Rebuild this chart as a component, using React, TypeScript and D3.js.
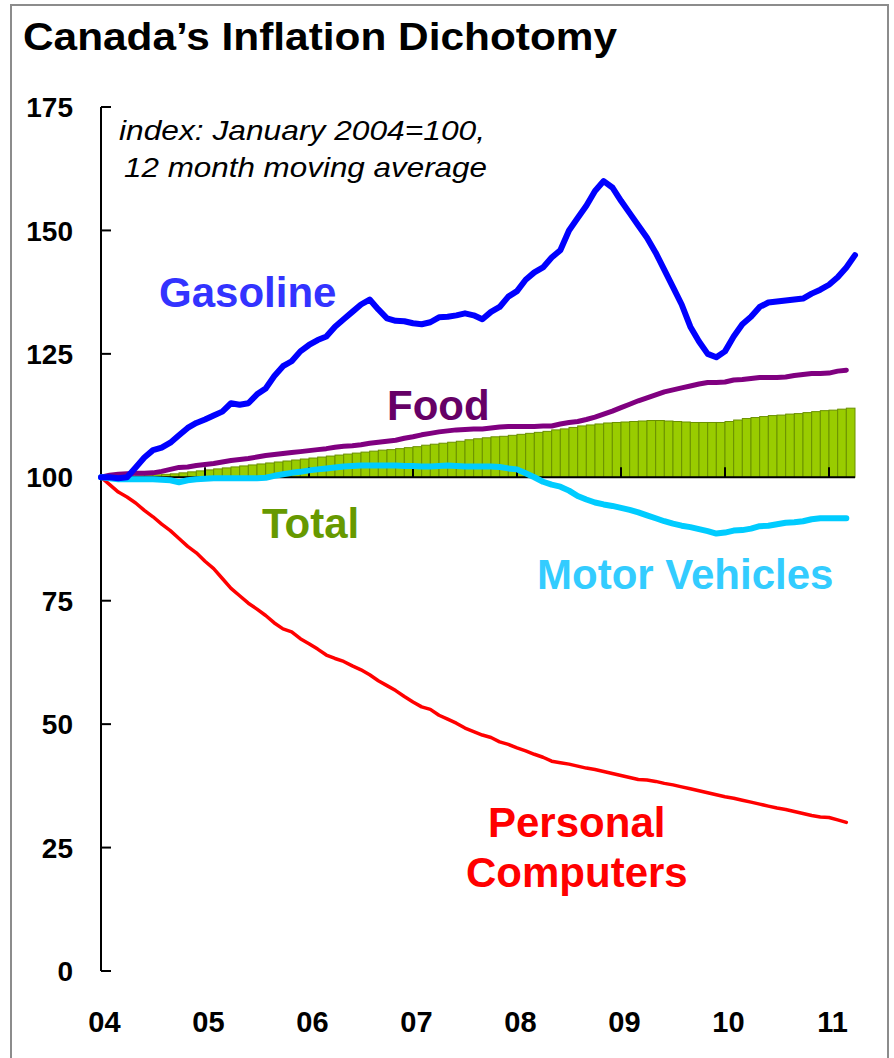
import React from "react";
import * as d3 from "d3";

const yearLabels = ["04", "05", "06", "07", "08", "09", "10", "11"];
const yTicks = [0, 25, 50, 75, 100, 125, 150, 175];

// monthly, Jan 2004 .. Mar 2011
const gasoline = [
  100, 100, 99.8, 100, 102, 104, 105.5, 106, 107, 108.5, 110, 111,
  111.7, 112.5, 113.3, 115, 114.7, 115, 116.8, 118, 120.5, 122.5, 123.5, 125.5,
  126.8, 127.8, 128.5, 130.5, 132, 133.5, 135, 136, 134, 132.2, 131.7, 131.6,
  131.2, 131, 131.4, 132.4, 132.5, 132.8, 133.2, 132.8, 132, 133.5, 134.5, 136.6,
  137.7, 140, 141.5, 142.5, 144.5, 146, 150, 152.5, 155, 158, 160, 158.7,
  156, 153.5, 151, 148.5, 145.5, 142, 138.5, 135, 130.5, 127.5, 125, 124.3,
  125.5, 128.5, 131, 132.5, 134.5, 135.4, 135.6, 135.8, 136, 136.2, 137.2, 138,
  139, 140.5, 142.5, 145,
];
const food = [
  100, 100.4, 100.6, 100.7, 100.8, 100.8, 100.9, 101.2, 101.6, 102, 102.1, 102.4,
  102.6, 102.8, 103.1, 103.4, 103.6, 103.8, 104.1, 104.4, 104.6, 104.8, 105, 105.2,
  105.4, 105.6, 105.8, 106.1, 106.3, 106.4, 106.6, 106.9, 107.1, 107.3, 107.5, 107.9,
  108.2, 108.6, 108.9, 109.2, 109.4, 109.6, 109.7, 109.8, 109.8, 110, 110.2, 110.3,
  110.3, 110.3, 110.3, 110.4, 110.4, 110.8, 111.1, 111.3, 111.7, 112.2, 112.8, 113.4,
  114.1, 114.8, 115.5, 116.1, 116.7, 117.3, 117.7, 118.1, 118.5, 118.9, 119.2, 119.2,
  119.3, 119.7, 119.8, 120, 120.2, 120.2, 120.2, 120.3, 120.6, 120.8, 121, 121,
  121.1, 121.5, 121.7,
];
const motorVehicles = [
  100, 99.8, 99.6, 99.6, 99.6, 99.6, 99.6, 99.5, 99.4, 99, 99.4, 99.6,
  99.7, 99.8, 99.8, 99.8, 99.8, 99.8, 99.8, 99.9, 100.3, 100.6, 100.9, 101.1,
  101.4, 101.6, 101.8, 102, 102.2, 102.3, 102.4, 102.4, 102.4, 102.4, 102.4, 102.3,
  102.3, 102.2, 102.2, 102.3, 102.4, 102.3, 102.2, 102.2, 102.2, 102.2, 102.1, 101.8,
  101.6, 100.8, 100, 99.1, 98.5, 98.1, 97.3, 96.2, 95.5, 94.9, 94.5, 94.2,
  93.8, 93.4, 92.9, 92.3, 91.7, 91.1, 90.6, 90.2, 89.9, 89.5, 89.1, 88.6,
  88.8, 89.2, 89.3, 89.6, 90.1, 90.2, 90.5, 90.8, 90.9, 91.1, 91.5, 91.7,
  91.7, 91.7, 91.7,
];
const computers = [
  100, 98.5, 97, 96, 94.8, 93.3, 92, 90.5, 89.2, 87.6, 86, 84.7,
  83, 81.5, 79.5, 77.5, 76, 74.5, 73.3, 72, 70.5, 69.3, 68.7, 67.3,
  66.3, 65.2, 64, 63.3, 62.7, 61.8, 61, 60, 58.8, 57.8, 56.8, 55.6,
  54.5, 53.5, 53, 51.8, 51, 50.2, 49.2, 48.5, 47.8, 47.3, 46.4, 45.9,
  45.2, 44.6, 43.9, 43.3, 42.5, 42.2, 41.9, 41.5, 41.1, 40.8, 40.4, 40,
  39.6, 39.2, 38.8, 38.7, 38.4, 38, 37.7, 37.3, 36.9, 36.5, 36.1, 35.7,
  35.3, 35, 34.6, 34.2, 33.8, 33.4, 33, 32.7, 32.3, 31.9, 31.5, 31.2,
  31.1, 30.6, 30.1,
];
const total = [
  100, 100.1, 100.2, 100.2, 100.3, 100.4, 100.5, 100.6, 100.7, 100.9, 101.1, 101.3,
  101.5, 101.7, 101.9, 102.1, 102.3, 102.5, 102.7, 102.9, 103.1, 103.3, 103.5, 103.7,
  103.9, 104.1, 104.3, 104.5, 104.7, 104.9, 105.1, 105.3, 105.5, 105.6, 105.8, 106,
  106.2, 106.5, 106.7, 106.9, 107.1, 107.3, 107.6, 107.8, 108, 108.2, 108.3, 108.5,
  108.7, 108.9, 109.1, 109.3, 109.6, 109.8, 110.1, 110.4, 110.6, 110.8, 111, 111.1,
  111.2, 111.3, 111.4, 111.5, 111.5, 111.4, 111.3, 111.2, 111.1, 111.1, 111.1, 111.1,
  111.3, 111.6, 111.9, 112.1, 112.3, 112.5, 112.6, 112.8, 112.9, 113.1, 113.3, 113.5,
  113.6, 113.8, 114,
];

const W = 894;
const H = 1058;

export default function App() {
  const x = d3.scaleLinear().domain([0, 84]).range([101, 829]);
  const y = d3.scaleLinear().domain([0, 175]).range([971, 107]);
  const line = d3
    .line<number>()
    .x((_, i) => x(i))
    .y((d) => y(d));
  const font = "'Liberation Sans', Arial, sans-serif";
  const n = total.length;
  const series = [
    { data: food, color: "#800080", w: 5 },
    { data: computers, color: "#FF0000", w: 3.5 },
    { data: motorVehicles, color: "#00CCFF", w: 6 },
    { data: gasoline, color: "#0000FF", w: 6 },
  ];
  return (
    <div style={{ position: "absolute", left: 0, top: 0 }}>
      <svg width={W} height={H} style={{ display: "block", background: "#fff" }}>
        <rect x={11} y={5} width={877} height={H + 10} fill="#fff" stroke="#8c8c8c" strokeWidth={2} />
        <text x={23} y={50} fontFamily={font} fontWeight="bold" fontSize={38} textLength={594} lengthAdjust="spacingAndGlyphs" fill="#000">
          Canada’s Inflation Dichotomy
        </text>
        <text x={119} y={140} fontFamily={font} fontStyle="italic" fontSize={28} textLength={366} lengthAdjust="spacingAndGlyphs" fill="#000">
          index: January 2004=100,
        </text>
        <text x={124} y={177} fontFamily={font} fontStyle="italic" fontSize={28} textLength={363} lengthAdjust="spacingAndGlyphs" fill="#000">
          12 month moving average
        </text>

        {/* Total bars */}
        <g>
          {total.map((v, i) => (
            <rect
              key={i}
              x={x(i)}
              y={y(v)}
              width={x(i + 1) - x(i)}
              height={Math.max(0, y(100) - y(v))}
              fill="#99CC00"
              stroke="#6B9100"
              strokeWidth={1}
            />
          ))}
        </g>
        {/* baseline at 100 */}
        <line x1={x(0)} x2={x(n)} y1={y(100)} y2={y(100)} stroke="#000" strokeWidth={2} />
        {yearLabels.map((_, k) =>
          k === 0 ? null : (
            <line key={k} x1={x(12 * k)} x2={x(12 * k)} y1={y(100)} y2={y(100) - 10} stroke="#000" strokeWidth={2} />
          )
        )}

        {/* y axis */}
        <line x1={x(0)} x2={x(0)} y1={y(175)} y2={y(0)} stroke="#000" strokeWidth={2} />
        {yTicks.map((t) => (
          <g key={t}>
            <line x1={x(0)} x2={x(0) + 10} y1={y(t)} y2={y(t)} stroke="#000" strokeWidth={2} />
            <text x={73} y={y(t)} dy="0.36em" textAnchor="end" fontFamily={font} fontWeight="bold" fontSize={28} fill="#000">
              {t}
            </text>
          </g>
        ))}
        {yearLabels.map((l, k) => (
          <text key={l} x={x(12 * k) + 3.5} y={1032} textAnchor="middle" fontFamily={font} fontWeight="bold" fontSize={29} fill="#000">
            {l}
          </text>
        ))}

        {series.map((s, i) => (
          <path key={i} d={line(s.data) || ""} fill="none" stroke={s.color} strokeWidth={s.w} strokeLinejoin="round" strokeLinecap="round" />
        ))}

        <text x={159} y={307} fontFamily={font} fontWeight="bold" fontSize={42} fill="#3333FF">Gasoline</text>
        <text x={387} y={420} fontFamily={font} fontWeight="bold" fontSize={42} fill="#660066">Food</text>
        <text x={262} y={538} fontFamily={font} fontWeight="bold" fontSize={42} fill="#669900">Total</text>
        <text x={537} y={589} fontFamily={font} fontWeight="bold" fontSize={42} fill="#33CCFF">Motor Vehicles</text>
        <text x={488} y={837} fontFamily={font} fontWeight="bold" fontSize={42} fill="#FF0000">Personal</text>
        <text x={466} y={887} fontFamily={font} fontWeight="bold" fontSize={42} fill="#FF0000">Computers</text>
      </svg>
    </div>
  );
}
